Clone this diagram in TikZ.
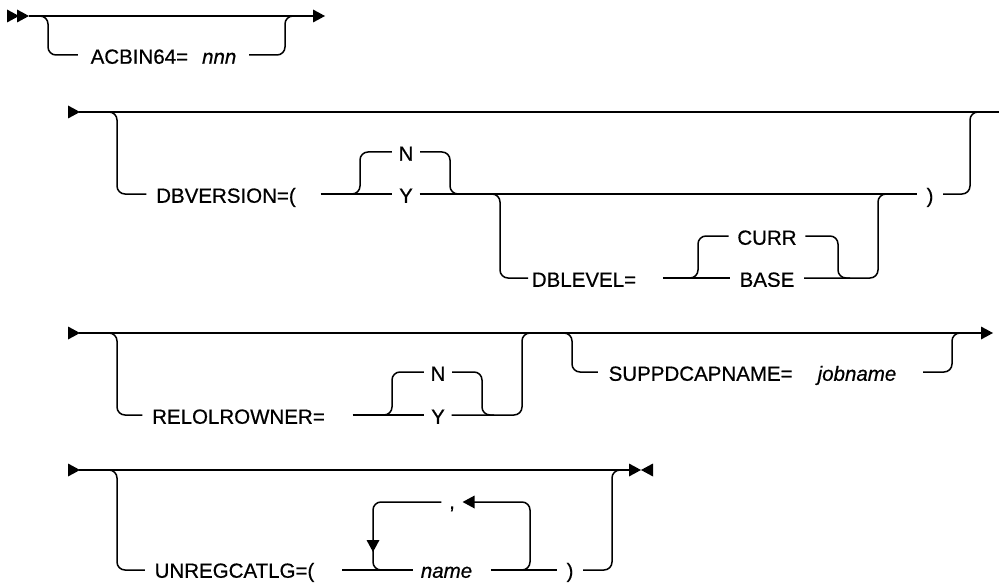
\documentclass[tikz,border=0pt]{standalone}
\usepackage{fontspec}
\setmainfont[FakeBold=0.6]{Liberation Sans}
\usetikzlibrary{arrows.meta}
\begin{document}
\begin{tikzpicture}[x=1pt,y=-1pt, line width=1.5pt,
  rail/.style={draw, rounded corners=8pt},
  lbl/.style={font=\fontsize{20.5}{23}\selectfont, inner ysep=0pt, inner xsep=#1, text height=17.5pt, text depth=0pt},
  lbl/.default=6pt,
  lowlbl/.style={lbl=#1, text height=15.5pt},
  lowlbl/.default=6pt,
  trir/.pic={\fill (0,0) -- (-12,-6.5) -- (-12,6.5) -- cycle;},
  tril/.pic={\fill (0,0) -- (12,-6.5) -- (12,6.5) -- cycle;},
  trid/.pic={\fill (0,0) -- (-6.5,-12) -- (6.5,-12) -- cycle;}]
\useasboundingbox (0,0) rectangle (999,583);

% ---------- Row 1
\pic at (19,16) {trir};
\pic at (29,16) {trir};
\draw (29,16) -- (313,16);
\pic at (325,16) {trir};
\node[lbl=12pt] (acb) at (163.5,55) {ACBIN64=\hspace{14pt}\textit{nnn}};
\draw[rail] (38,16) -- (48,16) -- (48,55) -- (acb.west);
\draw[rail] (acb.east) -- (285,55) -- (285,16) -- (297,16);

% ---------- Row 2
\pic at (80,112) {trir};
\draw (79,112) -- (999,112);
\node[lbl=9pt] (dbv) at (226,194) {DBVERSION=(};
\node[lbl=6pt] (n1) at (406,152) {N};
\node[lbl=6pt] (y1) at (406,194) {Y};
\node[lbl=3pt] (dbl) at (584,278) {DBLEVEL=};
\node[lbl=8pt] (curr) at (767,236) {CURR};
\node[lbl=9pt] (base) at (767,278) {BASE};
\node[lbl=9pt] (rp1) at (930,194) {)};
\draw[rail] (107,112) -- (117,112) -- (117,194) -- (dbv.west);
\draw ([xshift=15pt]dbv.east) -- (y1.west);
\draw[rail] (344,194) -- (360,194) -- (360,152) -- (n1.west);
\draw[rail] (n1.east) -- (450,152) -- (450,194) -- (462,194);
\draw (y1.east) -- (rp1.west);
\draw[rail] (488,194) -- (500,194) -- (500,278) -- (dbl.west);
\draw ([xshift=23pt]dbl.east) -- (base.west);
\draw[rail] (688,278) -- (698,278) -- (698,236) -- (curr.west);
\draw[rail] (curr.east) -- (838,236) -- (838,278) -- (850,278);
\draw[rail] (base.east) -- (878,278) -- (878,194) -- (890,194);
\draw[rail] (rp1.east) -- (970,194) -- (970,112) -- (982,112);

% ---------- Row 3
\pic at (80,333) {trir};
\draw (79,333) -- (981,333);
\pic at (993,333) {trir};
\node[lbl=9pt] (rel) at (238.5,415) {RELOLROWNER=};
\node[lbl=6pt] (n2) at (438,372) {N};
\node[lbl=6pt] (y2) at (438,415) {Y};
\node[lbl=10pt] (sup) at (752.5,372) {SUPPDCAPNAME=\hspace{25pt}\textit{jobname}};
\draw[rail] (107,333) -- (117,333) -- (117,415) -- (rel.west);
\draw ([xshift=18pt]rel.east) -- (y2.west);
\draw[rail] (380,415) -- (392,415) -- (392,372) -- (n2.west);
\draw[rail] (n2.east) -- (482,372) -- (482,415) -- (494,415);
\draw[rail] (y2.east) -- (522,415) -- (522,333) -- (534,333);
\draw[rail] (560,333) -- (572,333) -- (572,372) -- (sup.west);
\draw[rail] ([xshift=16pt]sup.east) -- (952,372) -- (952,333) -- (964,333);

% ---------- Row 4
\pic at (80,470) {trir};
\draw (79,470) -- (631,470);
\pic at (641,470) {trir};
\pic at (641,470) {tril};
\node[lowlbl=9pt] (unr) at (234.5,570) {UNREGCATLG=(};
\node[lowlbl=7pt] (nm) at (446.5,570) {\textit{name}};
\node[lowlbl=9pt] (rp2) at (570,570) {)};
\node[lbl=7pt] (cm) at (452,502) {\raisebox{2pt}{,}};
\draw[rail] (107,470) -- (117,470) -- (117,570) -- (unr.west);
\draw ([xshift=18pt]unr.east) -- (nm.west);
\draw ([xshift=11pt]nm.east) -- (rp2.west);
\draw[rail] (517,570) -- (530,570) -- (530,502) -- ([xshift=10pt]cm.east);
\pic at (cm.east) {tril};
\draw[rail] (cm.west) -- (373,502) -- (373,570) -- (385,570);
\pic at (373,552) {trid};
\draw[rail] (rp2.east) -- (612,570) -- (612,470) -- (624,470);
\end{tikzpicture}
\end{document}
